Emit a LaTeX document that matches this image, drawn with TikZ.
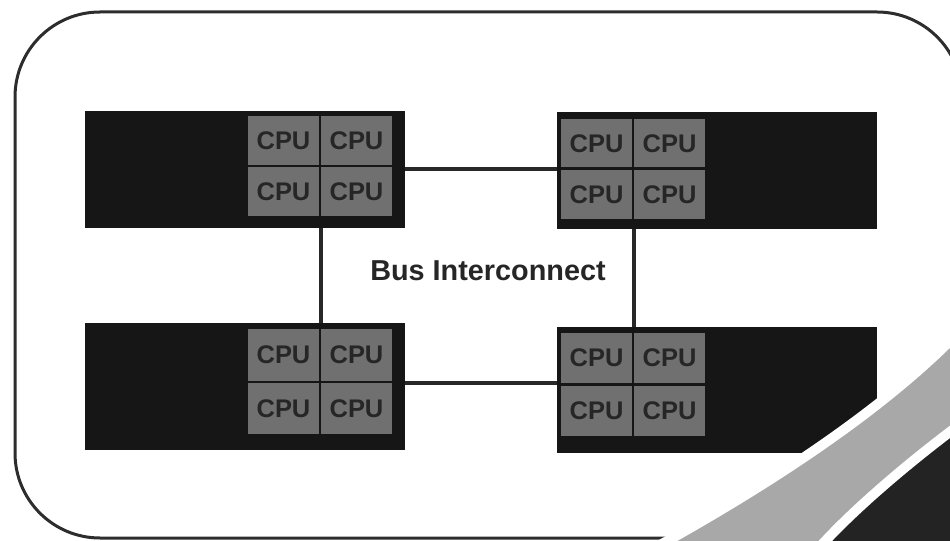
\documentclass[tikz,border=0pt]{standalone}
\usepackage{fontspec}
\setmainfont{Liberation Sans}
\usepackage{tikz}
\usetikzlibrary{positioning, calc}
\definecolor{BoardDark}{RGB}{22,22,22}
\definecolor{CoreGray}{RGB}{112,112,112}
\definecolor{CoreText}{RGB}{38,38,38}
\definecolor{BusLine}{RGB}{40,40,40}
\definecolor{PanelLine}{RGB}{45,45,45}
\definecolor{SwooshGray}{RGB}{168,168,168}
\definecolor{SwooshDark}{RGB}{35,35,35}

\begin{document}
\begin{tikzpicture}[x=0.2mm, y=-0.2mm,
      board/.style={rectangle, fill=BoardDark, minimum width=64mm,
                    minimum height=23.4mm, inner sep=0pt},
      core/.style={rectangle, fill=CoreGray, draw=BoardDark, line width=0.5mm,
                   minimum width=14.6mm, minimum height=10.3mm, inner sep=0pt,
                   font=\fontsize{14.5}{15}\selectfont\bfseries, text=CoreText},
      bus/.style={line width=0.8mm, BusLine},
      panel/.style={draw=PanelLine, line width=0.6mm, rounded corners=17mm}
    ]
    \useasboundingbox (0,0) rectangle (950,541);
    \clip (0,0) rectangle (950,541);

    % Outer panel
    \draw[panel] (15,12) rectangle (962,538);

    % Top-left board
    \node[board] (tl) at (245,169.5) {};
    \node[core] (tl1) at (283.5,141) {CPU};
    \node[core] (tl2) at (356.5,141) {CPU};
    \node[core] (tl3) at (283.5,192) {CPU};
    \node[core] (tl4) at (356.5,192) {CPU};

    % Top-right board
    \node[board] (tr) at (717,170.5) {};
    \node[core] (tr1) at (596.5,143.5) {CPU};
    \node[core] (tr2) at (669.5,143.5) {CPU};
    \node[core] (tr3) at (596.5,194.5) {CPU};
    \node[core] (tr4) at (669.5,194.5) {CPU};

    % Bottom-left board
    \node[board, minimum height=25.4mm] (bl) at (245,386.5) {};
    \node[core, minimum height=10.7mm] (bl1) at (283.5,355) {CPU};
    \node[core, minimum height=10.7mm] (bl2) at (356.5,355) {CPU};
    \node[core, minimum height=10.7mm] (bl3) at (283.5,408.5) {CPU};
    \node[core, minimum height=10.7mm] (bl4) at (356.5,408.5) {CPU};

    % Bottom-right board
    \node[board, minimum height=25mm] (br) at (717,390) {};
    \node[core, minimum height=10.5mm] (br1) at (596.5,358) {CPU};
    \node[core, minimum height=10.5mm] (br2) at (669.5,358) {CPU};
    \node[core, minimum height=10.5mm] (br3) at (596.5,410.5) {CPU};
    \node[core, minimum height=10.5mm] (br4) at (669.5,410.5) {CPU};

    % Bus links
    \draw[bus] (tl.east) -- (tl.east -| tr.west);
    \draw[bus] (bl.east |- bl1.south) -- (br.west |- bl1.south);
    \draw[bus] (tl1.east |- tl.south) -- (tl1.east |- bl.north);
    \draw[bus] (tr1.east |- tr.south) -- (tr1.east |- br.north);

    \node[font=\fontsize{16.4}{18}\selectfont\bfseries, text=black!85] (label)
          at (488,271) {Bus Interconnect};

    % Corner swoosh
    \fill[SwooshDark] (815,548) .. controls (860,500) and (905,455) .. (960,418)
          -- (960,548) -- cycle;
    \path[preaction={draw=white, line width=4mm}, fill=SwooshGray]
          (665,548) .. controls (760,495) and (880,420) .. (960,338)
          -- (960,418) .. controls (910,455) and (850,505) .. (812,548) -- cycle;
  \end{tikzpicture}
\end{document}
